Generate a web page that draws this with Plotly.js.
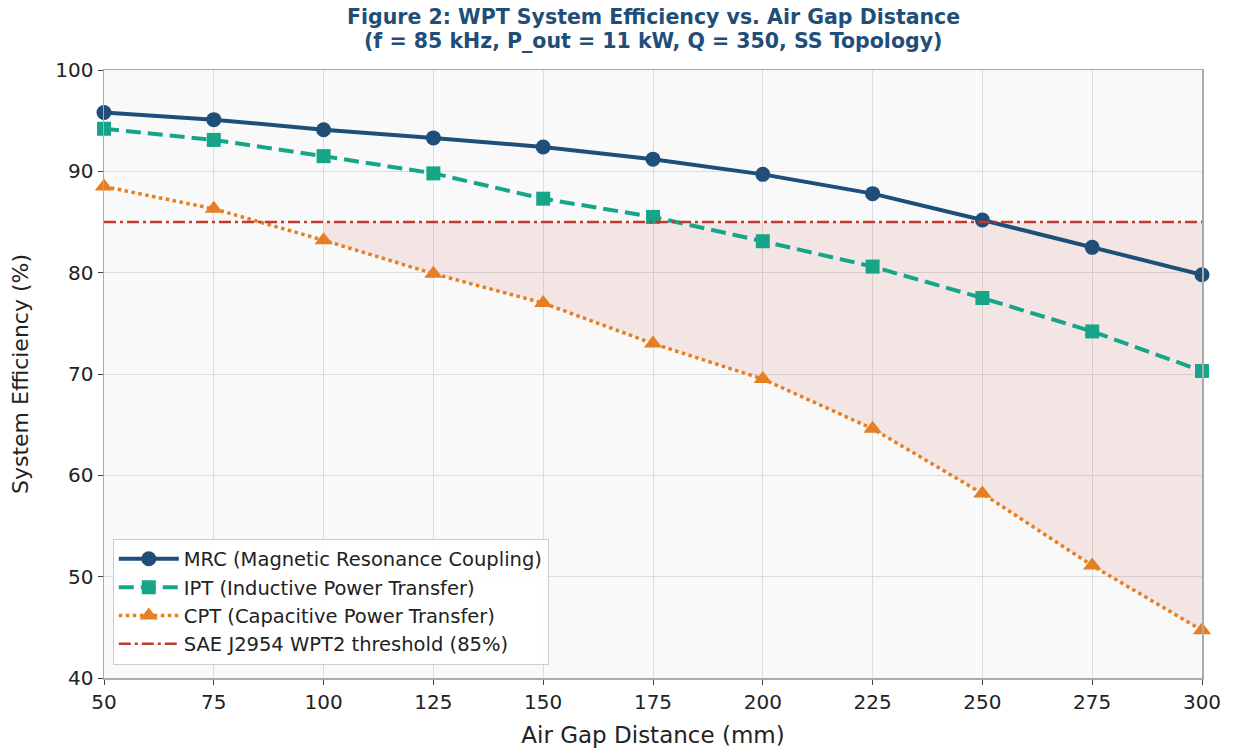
<!DOCTYPE html>
<html><head><meta charset="utf-8">
<script src="https://cdn.plot.ly/plotly-3.0.1.min.js"></script>
<style>html,body{margin:0;padding:0;background:#fff}#chart{width:1234px;height:751px}</style>
</head><body><div id="chart"></div>
<script>
const airGap = [50, 75, 100, 125, 150, 175, 200, 225, 250, 275, 300];
const mrc = [95.8, 95.1, 94.1, 93.3, 92.4, 91.2, 89.7, 87.8, 85.2, 82.5, 79.8];
const ipt = [94.2, 93.1, 91.5, 89.8, 87.3, 85.5, 83.1, 80.6, 77.5, 74.2, 70.3];
const cpt = [88.5, 86.3, 83.2, 79.9, 77.0, 73.0, 69.5, 64.6, 58.2, 51.1, 44.7];
const threshold = 85;
const xTicks = [50, 75, 100, 125, 150, 175, 200, 225, 250, 275, 300];
const yTicks = [40, 50, 60, 70, 80, 90, 100];
const titleLine1 = 'Figure 2: WPT System Efficiency vs. Air Gap Distance';
const titleLine2 = '(f = 85 kHz, P_out = 11 kW, Q = 350, SS Topology)';

const fx = [], fy = [];
const idx = airGap.map((x,i)=>i).filter(i => cpt[i] < threshold);
idx.forEach(i => { fx.push(airGap[i]); fy.push(threshold); });
idx.slice().reverse().forEach(i => { fx.push(airGap[i]); fy.push(cpt[i]); });

const font = "DejaVu Sans, sans-serif";
const traces = [
  {x: fx, y: fy, type: 'scatter', mode: 'lines', fill: 'toself', fillcolor: 'rgba(192,57,43,0.10)',
   line: {width: 0}, hoverinfo: 'skip', showlegend: false},
  {x: airGap, y: mrc, type: 'scatter', mode: 'lines+markers', name: 'MRC (Magnetic Resonance Coupling)',
   line: {color: '#1f4e79', width: 4}, marker: {symbol: 'circle', size: 15, color: '#1f4e79'}, cliponaxis: false},
  {x: airGap, y: ipt, type: 'scatter', mode: 'lines+markers', name: 'IPT (Inductive Power Transfer)',
   line: {color: '#17a589', width: 4, dash: '15px,7px'}, marker: {symbol: 'square', size: 14, color: '#17a589'}, cliponaxis: false},
  {x: airGap, y: cpt, type: 'scatter', mode: 'lines+markers', name: 'CPT (Capacitive Power Transfer)',
   line: {color: '#e67e22', width: 3.5, dash: 'dot'}, marker: {symbol: 'triangle-up', size: 16, color: '#e67e22'}, cliponaxis: false},
  {x: [airGap[0], airGap[airGap.length-1]], y: [threshold, threshold], type: 'scatter', mode: 'lines',
   name: 'SAE J2954 WPT2 threshold (85%)', line: {color: '#c0392b', width: 2.5, dash: '12px,4px,3px,4px'}}
];

const plotH = 751 - 70 - 73;
const py = p => (751 - 73 - p) / plotH;
const titleFont = {family: font, size: 20.5, color: '#1f4e79'};

const layout = {
  width: 1234, height: 751,
  margin: {l: 104, r: 32, t: 70, b: 73},
  paper_bgcolor: '#ffffff', plot_bgcolor: '#f9f9f9',
  font: {family: font, size: 20, color: '#222'},
  annotations: [
    {text: '<b>' + titleLine1 + '</b>', xref: 'paper', yref: 'paper', x: 0.5, y: py(17), xanchor: 'center', yanchor: 'middle', showarrow: false, font: titleFont},
    {text: '<b>' + titleLine2 + '</b>', xref: 'paper', yref: 'paper', x: 0.5, y: py(41), xanchor: 'center', yanchor: 'middle', showarrow: false, font: titleFont}
  ],
  xaxis: {range: [50, 300], tickvals: xTicks, ticktext: xTicks.map(String),
          title: {text: 'Air Gap Distance (mm)', font: {size: 23}, standoff: 14},
          showgrid: true, gridcolor: '#dcdcdc', gridwidth: 1, zeroline: false,
          showline: true, linecolor: '#aaaaaa', linewidth: 1.5, mirror: true,
          ticks: 'outside', ticklen: 5, tickcolor: '#444', tickfont: {size: 20}},
  yaxis: {range: [40, 100], tickvals: yTicks, ticktext: yTicks.map(String),
          title: {text: 'System Efficiency (%)', font: {size: 22}, standoff: 20},
          showgrid: true, gridcolor: '#dcdcdc', gridwidth: 1, zeroline: false,
          showline: true, linecolor: '#aaaaaa', linewidth: 1.5, mirror: true,
          ticks: 'outside', ticklen: 5, tickcolor: '#444', tickfont: {size: 20}},
  legend: {x: 0.008, y: 0.022, xanchor: 'left', yanchor: 'bottom',
           bgcolor: 'rgba(255,255,255,0.9)', bordercolor: '#cccccc', borderwidth: 1,
           font: {size: 19.5, color: '#222'}, tracegroupgap: 0, itemwidth: 60},
  showlegend: true
};
Plotly.newPlot('chart', traces, layout, {displayModeBar: false, staticPlot: true});
</script></body></html>
